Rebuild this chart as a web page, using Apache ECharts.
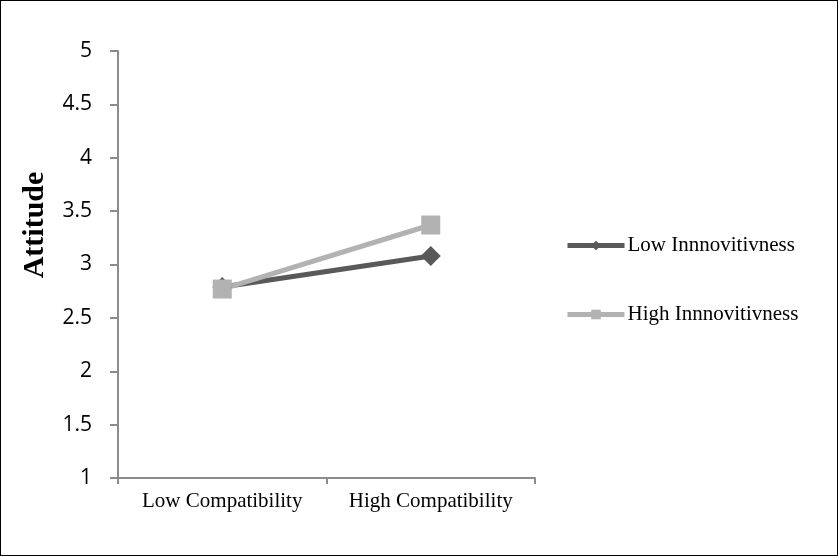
<!DOCTYPE html>
<html>
<head>
<meta charset="utf-8">
<script src="https://cdn.jsdelivr.net/npm/echarts@6/dist/echarts.min.js"></script>
<style>
  html, body { margin: 0; padding: 0; background: #fff; }
  #main { width: 838px; height: 556px; box-sizing: border-box; border: 1px solid #000; }
</style>
</head>
<body>
<div id="main"></div>
<script>
// 数据
var categories = ['Low Compatibility', 'High Compatibility'];
var lowInnov = [2.79, 3.08];
var highInnov = [2.77, 3.37];
var seriesNames = ['Low Innnovitivness', 'High Innnovitivness'];

var myChart = echarts.init(document.getElementById('main'));
var option = {
    animation: false,
    grid: {
        left: 117,
        right: 302,
        top: 50,
        bottom: 77
    },
    // 纵轴标题
    graphic: [{
        type: 'text',
        x: 34,
        y: 224,
        rotation: Math.PI / 2,
        style: {
            text: 'Attitude',
            font: 'bold 30px "Liberation Serif"',
            fill: '#000',
            align: 'center',
            verticalAlign: 'middle'
        }
    }],
    legend: {
        data: seriesNames,
        orient: 'vertical',
        left: 564,
        top: 234,
        padding: 0,
        itemGap: 48,
        itemWidth: 57,
        itemHeight: 12,
        lineStyle: { width: 5 },
        textStyle: {
            fontFamily: 'Liberation Serif',
            fontSize: 21,
            color: '#000',
            padding: [0, 0, 0, -2]
        }
    },
    xAxis: {
        type: 'category',
        data: categories,
        boundaryGap: true,
        axisLine: { lineStyle: { color: '#8c8c8c', width: 2 } },
        axisTick: { show: true, interval: 0, length: 6, lineStyle: { color: '#8c8c8c', width: 2 } },
        axisLabel: {
            interval: 0,
            hideOverlap: false,
            margin: 13,
            fontFamily: 'Liberation Serif',
            fontSize: 21,
            color: '#000'
        }
    },
    yAxis: {
        type: 'value',
        min: 1,
        max: 5,
        interval: 0.5,
        splitLine: { show: false },
        axisLine: { show: true, lineStyle: { color: '#8c8c8c', width: 2 } },
        axisTick: { show: true, length: 8, lineStyle: { color: '#8c8c8c', width: 2 } },
        axisLabel: {
            margin: 26,
            fontFamily: 'Open Sans',
            fontSize: 21,
            color: '#000'
        }
    },
    series: [
        {
            name: seriesNames[0],
            type: 'line',
            data: lowInnov,
            symbol: 'diamond',
            symbolSize: 20,
            lineStyle: { color: '#595959', width: 5 },
            itemStyle: { color: '#595959' }
        },
        {
            name: seriesNames[1],
            type: 'line',
            data: highInnov,
            symbol: 'rect',
            symbolSize: 19,
            lineStyle: { color: '#b2b2b2', width: 5 },
            itemStyle: { color: '#b2b2b2' }
        }
    ]
};
myChart.setOption(option);
</script>
</body>
</html>
